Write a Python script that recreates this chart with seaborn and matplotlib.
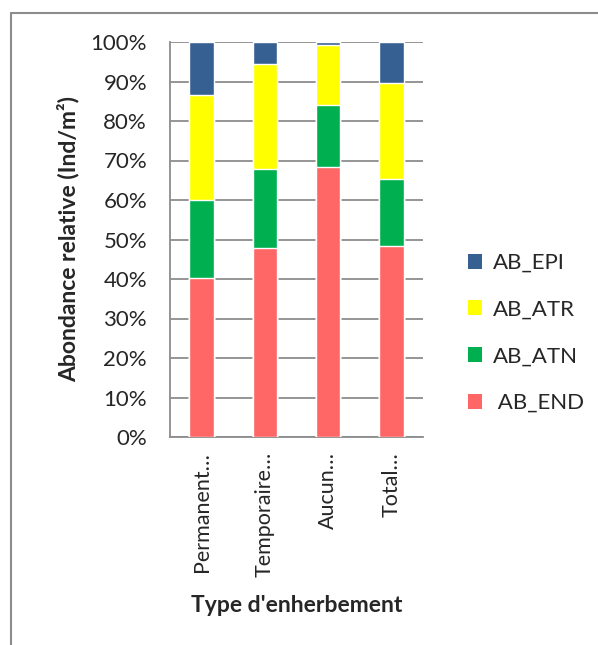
#!/usr/bin/env python3
"""Relative abundance by grass cover type - 100% stacked bars"""
import numpy as np
import pandas as pd
import matplotlib
matplotlib.use('Agg')
import matplotlib.pyplot as plt
from matplotlib.patches import Patch
from matplotlib.lines import Line2D
from matplotlib.ticker import FixedLocator, PercentFormatter
import seaborn as sns

categories = ['Permanent', 'Temporaire', 'Aucun', 'Total']
tick_labels = ['Permanent…', 'Temporaire…', 'Aucun…', 'Total…']
ab_end = [40.2, 47.8, 68.4, 48.4]
ab_atn = [19.8, 20.1, 15.7, 17.0]
ab_atr = [26.5, 26.5, 15.1, 24.2]
ab_epi = [13.5, 5.6, 0.8, 10.4]

series = ['AB_END', 'AB_ATN', 'AB_ATR', 'AB_EPI']
legend_labels = {'AB_EPI': 'AB_EPI', 'AB_ATR': 'AB_ATR', 'AB_ATN': 'AB_ATN', 'AB_END': ' AB_END'}
colors = {'AB_END': '#FF6666', 'AB_ATN': '#00B050', 'AB_ATR': '#FFFF00', 'AB_EPI': '#376092'}

df = pd.DataFrame({'type': categories, 'AB_END': ab_end, 'AB_ATN': ab_atn,
                   'AB_ATR': ab_atr, 'AB_EPI': ab_epi})
cum = df[series].cumsum(axis=1)
cum['type'] = df['type']

sns.set_style('white')
plt.rcParams['font.family'] = ['Lato', 'DejaVu Sans']
grey = '#8C8C8C'

fig = plt.figure(figsize=(5.98, 6.45), dpi=100)
ax = fig.add_axes([170 / 598, 1 - 437 / 645, 253 / 598, 395 / 645])

# overlay cumulative bars, tallest first
for s in reversed(series):
    sns.barplot(data=cum, x='type', y=s, order=categories, color=colors[s],
                saturation=1, width=0.39, ax=ax, zorder=3)

ax.set_xlim(-0.5, 3.5)
ax.set_ylim(0, 100)
ax.yaxis.set_major_locator(FixedLocator(np.arange(0, 101, 10)))
ax.yaxis.set_major_formatter(PercentFormatter(decimals=0))
ax.grid(axis='y', color=grey, linewidth=1.3, zorder=0)
ax.grid(axis='x', visible=False)
ax.set_axisbelow(True)

ax.set_xticks(range(len(categories)))
ax.set_xticklabels(tick_labels, rotation=90, fontsize=15.5)
ax.xaxis.set_minor_locator(FixedLocator(np.arange(-0.5, 4, 1)))
ax.tick_params(axis='x', which='major', length=0, pad=11)
ax.tick_params(axis='x', which='minor', length=5, width=1.3, color=grey, direction='out')
ax.tick_params(axis='y', length=6.5, width=1.3, color=grey, direction='out', labelsize=16, pad=10)

for side in ['top', 'right']:
    ax.spines[side].set_visible(False)
for side in ['left', 'bottom']:
    ax.spines[side].set_color(grey)
    ax.spines[side].set_linewidth(1.3)

ax.set_ylabel('Abondance relative (Ind/m²)', fontsize=16.5, fontweight='bold', labelpad=8)
ax.set_xlabel("Type d'enherbement", fontsize=16.5, fontweight='bold', labelpad=13)

handles = [Patch(facecolor=colors[s], edgecolor='none', label=legend_labels[s])
           for s in ['AB_EPI', 'AB_ATR', 'AB_ATN', 'AB_END']]
ax.legend(handles=handles, loc='center left', bbox_to_anchor=(448 / 598, 1 - 333 / 645),
          bbox_transform=fig.transFigure, frameon=False, fontsize=16,
          handlelength=0.65, handleheight=0.65, handletextpad=0.45, labelspacing=1.2)

# chart area border (left and top edges)
fig.add_artist(Line2D([11 / 598, 11 / 598], [0, 1 - 13 / 645], transform=fig.transFigure,
                      color=grey, linewidth=1.5))
fig.add_artist(Line2D([11 / 598, 1], [1 - 13 / 645, 1 - 13 / 645], transform=fig.transFigure,
                      color=grey, linewidth=1.5))

fig.savefig('out.png', dpi=100)
